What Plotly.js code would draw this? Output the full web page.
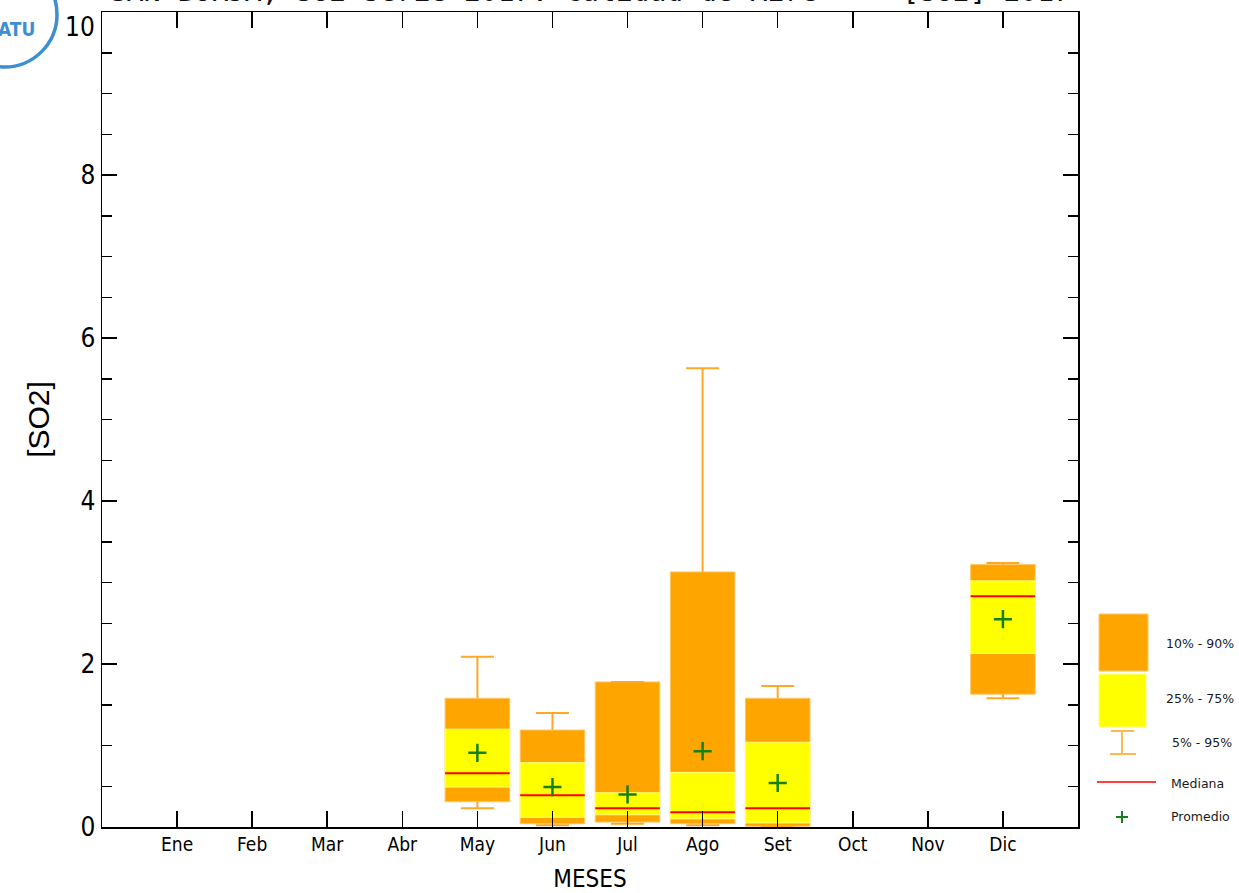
<!DOCTYPE html>
<html>
<head>
<meta charset="utf-8">
<script src="https://cdn.plot.ly/plotly-3.0.1.min.js"></script>
<style>html,body{margin:0;padding:0;background:#fff;}#chart{width:1239px;height:893px;}</style>
</head>
<body>
<div id="chart"></div>
<script>
// ---- data ----
const months = ['Ene','Feb','Mar','Abr','May','Jun','Jul','Ago','Set','Oct','Nov','Dic'];
const p5   = [null,null,null,null,0.23,0.02,0.04,0.02,0.00,null,null,1.58];
const p10  = [null,null,null,null,0.31,0.04,0.06,0.04,0.01,null,null,1.63];
const p25  = [null,null,null,null,0.49,0.12,0.15,0.10,0.05,null,null,2.13];
const p50  = [null,null,null,null,0.66,0.39,0.23,0.18,0.23,null,null,2.83];
const p75  = [null,null,null,null,1.20,0.79,0.42,0.67,1.04,null,null,3.02];
const p90  = [null,null,null,null,1.58,1.19,1.78,3.13,1.58,null,null,3.22];
const p95  = [null,null,null,null,2.09,1.40,1.78,5.63,1.73,null,null,3.24];
const mean = [null,null,null,null,0.91,0.49,0.40,0.93,0.54,null,null,2.55];
const yTickVals = [0,2,4,6,8,10];
const yTickText = ['0','2','4','6','8','10'];
const legendLabels = ['10% - 90%','25% - 75%','5% - 95%','Mediana','Promedio'];

// ---- build traces ----
const xs = months.map((m,i)=>i+1);
const BOXW = 0.86, CAP = 0.22, HALF = BOXW/2;
const FONT = '"DejaVu Sans Condensed","Liberation Sans Narrow","Liberation Sans",sans-serif';

const outer = {type:'bar', x:xs, base:p10, y:p90.map((v,i)=>v==null?null:v-p10[i]),
  width:BOXW, marker:{color:'#FFA500', line:{color:'#FFC766', width:1}}, hoverinfo:'skip'};
const inner = {type:'bar', x:xs, base:p25, y:p75.map((v,i)=>v==null?null:v-p25[i]),
  width:BOXW, marker:{color:'#FFFF00', line:{color:'#FFFF80', width:1}}, hoverinfo:'skip'};

const wx=[], wy=[];
xs.forEach((x,i)=>{
  if(p95[i]==null) return;
  wx.push(x,x,null,x-CAP,x+CAP,null, x,x,null,x-CAP,x+CAP,null);
  wy.push(p90[i],p95[i],null,p95[i],p95[i],null, p10[i],p5[i],null,p5[i],p5[i],null);
});
const whisk = {type:'scatter', mode:'lines', x:wx, y:wy, line:{color:'#FFA826', width:2},
  connectgaps:false, hoverinfo:'skip'};

const mx=[], my=[];
xs.forEach((x,i)=>{ if(p50[i]==null) return; mx.push(x-HALF,x+HALF,null); my.push(p50[i],p50[i],null); });
const med = {type:'scatter', mode:'lines', x:mx, y:my, line:{color:'#FF0000', width:2}, hoverinfo:'skip'};

const avg = {type:'scatter', mode:'markers', x:xs, y:mean,
  marker:{symbol:'cross-thin', size:13, color:'#168016', line:{color:'#168016', width:2.5}}, hoverinfo:'skip'};

// ---- layout helpers (pixel -> paper) ----
const L=102, R=1078, T=12, B=827;
const px = v => (v-L)/(R-L);
const py = v => (B-v)/(B-T);

const shapes = [
  {type:'rect', xref:'paper', yref:'paper', x0:px(1099), x1:px(1148), y0:py(671), y1:py(614), fillcolor:'#FFA500', line:{color:'#FFC766', width:1}},
  {type:'rect', xref:'paper', yref:'paper', x0:px(1099), x1:px(1146), y0:py(727), y1:py(674), fillcolor:'#FFFF00', line:{color:'#FFFF80', width:1}},
  {type:'line', xref:'paper', yref:'paper', x0:px(1122), x1:px(1122), y0:py(731), y1:py(754), line:{color:'#FFB84D', width:2}},
  {type:'line', xref:'paper', yref:'paper', x0:px(1111), x1:px(1134), y0:py(731), y1:py(731), line:{color:'#FFB84D', width:2}},
  {type:'line', xref:'paper', yref:'paper', x0:px(1110), x1:px(1136), y0:py(754), y1:py(754), line:{color:'#FFB84D', width:2}},
  {type:'line', xref:'paper', yref:'paper', x0:px(1097), x1:px(1156), y0:py(782), y1:py(782), line:{color:'#FF0000', width:1.5}},
  {type:'line', xref:'paper', yref:'paper', x0:px(1116), x1:px(1128), y0:py(817), y1:py(817), line:{color:'#168016', width:2}},
  {type:'line', xref:'paper', yref:'paper', x0:px(1122), x1:px(1122), y0:py(811), y1:py(823), line:{color:'#168016', width:2}},
  {type:'circle', xref:'paper', yref:'paper', x0:px(-48), x1:px(57), y0:py(67), y1:py(-38), line:{color:'#3D8FD1', width:3.5}, fillcolor:'rgba(0,0,0,0)'}
];

const legY = [643, 698, 742, 783, 816];
const legX = [1200, 1200, 1202, 1197, 1200];
const annotations = legendLabels.map((t,i)=>({
  text:t, xref:'paper', yref:'paper', x:px(legX[i]), y:py(legY[i]), xanchor:'center', yanchor:'middle',
  showarrow:false, font:{family:'"DejaVu Sans",sans-serif', size:12.5, color:'#1a1a1a'}
}));
// top y tick label, kept inside the picture as in the reference
annotations.push({text:yTickText[5], xref:'paper', yref:'y', x:0, y:yTickVals[5], xanchor:'right', yanchor:'top',
  xshift:-5, yshift:2, showarrow:false, font:{family:FONT, size:26, color:'#000'}});
annotations.push({text:'ATU', xref:'paper', yref:'paper', x:px(16), y:py(29), xanchor:'center', yanchor:'middle',
  showarrow:false, font:{family:'"DejaVu Sans Condensed","Liberation Sans",sans-serif', size:19, color:'#3D8FD1', weight:700}});
annotations.push({text:'SAN BORJA, SO2 Serie 2017: Calidad de Aire  -  [SO2] 2017', xref:'paper', yref:'paper',
  x:px(590), y:py(10), xanchor:'center', yanchor:'bottom', showarrow:false,
  font:{family:'"DejaVu Sans Mono",monospace', size:28, color:'#111'}});

const layout = {
  width:1239, height:893,
  margin:{l:L, r:1239-R, t:T, b:893-B},
  paper_bgcolor:'#fff', plot_bgcolor:'#fff',
  barmode:'overlay', showlegend:false,
  xaxis:{range:[0,13], tickvals:xs, ticktext:months, ticks:'inside', ticklen:16, tickwidth:1.5, tickcolor:'#000',
    showline:true, linecolor:'#000', linewidth:1.5, mirror:'ticks', showgrid:false, zeroline:false,
    tickfont:{family:FONT, size:19, color:'#000'},
    title:{text:'MESES', font:{family:FONT, size:24, color:'#000'}, standoff:17}},
  yaxis:{range:[0,10], tickvals:yTickVals, ticktext:yTickText.map((t,i)=>i===5?'':t),
    ticks:'inside', ticklen:15, tickwidth:1.5, tickcolor:'#000',
    showline:true, linecolor:'#000', linewidth:1.5, mirror:'ticks', showgrid:false, zeroline:false,
    minor:{dtick:0.5, ticks:'inside', ticklen:10, tickwidth:1.5, tickcolor:'#000', showgrid:false},
    tickfont:{family:FONT, size:26, color:'#000'},
    title:{text:'[SO2]', font:{family:'"Liberation Sans",sans-serif', size:30, color:'#000'}, standoff:22}},
  shapes:shapes, annotations:annotations
};

Plotly.newPlot('chart', [outer, inner, whisk, med, avg], layout, {staticPlot:true, displayModeBar:false});
</script>
</body>
</html>
